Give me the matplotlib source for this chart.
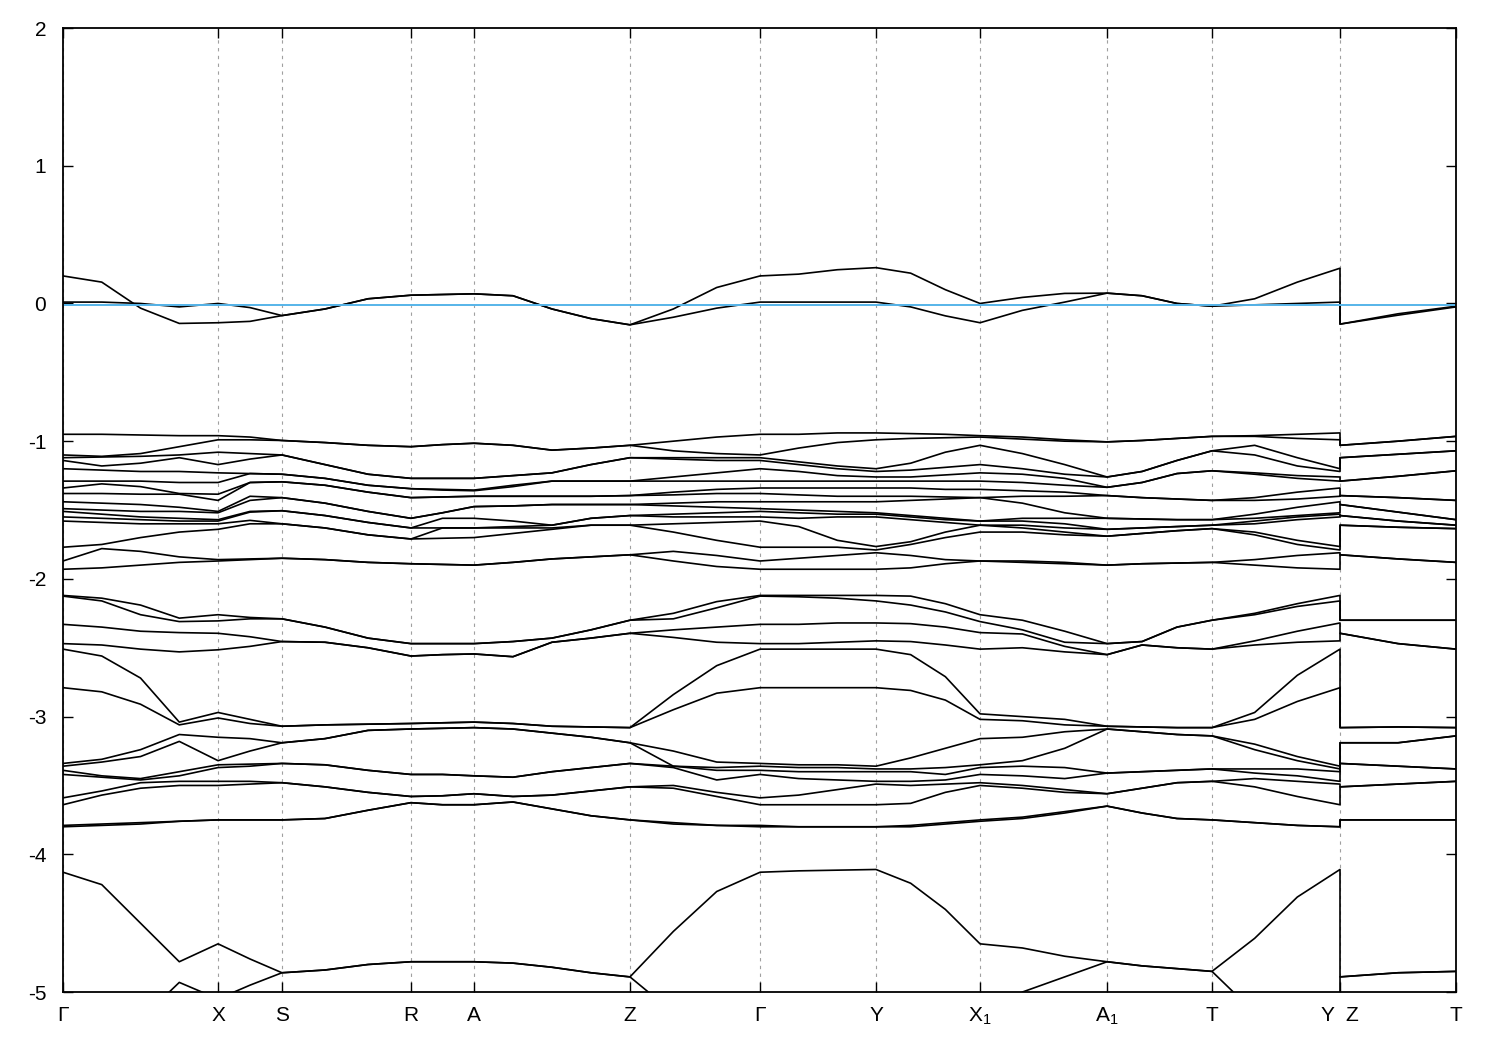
import numpy as np
import matplotlib
matplotlib.use("Agg")
import matplotlib.pyplot as plt

plt.rcParams['font.family'] = ['Liberation Sans', 'DejaVu Sans']
plt.rcParams['mathtext.fontset'] = 'custom'
plt.rcParams['mathtext.rm'] = 'Liberation Sans'
plt.rcParams['mathtext.it'] = 'Liberation Sans'
plt.rcParams['axes.unicode_minus'] = False

# ----- k path -----
kpath_labels = ['Γ', 'X', 'S', 'R', 'A', 'Z', 'Γ', 'Y', 'X$_1$', 'A$_1$', 'T', 'Y  Z', 'T']
kpath_pos = [0.0, 0.1113, 0.1572, 0.2498, 0.2950, 0.4070, 0.5004, 0.5836,
             0.6583, 0.7495, 0.8248, 0.9167, 1.0]
# number of sampled steps per segment (last one is the Z-T branch)
nsub = [4, 2, 3, 2, 4, 3, 3, 3, 3, 3, 3, 2]

fermi_level = -0.01

# ----- bands near the Fermi level (one list per band, 37 k samples) -----
band_a = [0.20, 0.155, -0.034, -0.145, -0.14, -0.13, -0.088, -0.04, 0.034, 0.06,
          0.065, 0.07, 0.056, -0.04, -0.11, -0.155, -0.04, 0.116, 0.20, 0.213,
          0.245, 0.26, 0.22, 0.10, 0.0, 0.044, 0.073, 0.075, 0.056, 0.0,
          -0.02, 0.034, 0.155, 0.256, -0.15, -0.085, -0.025]
band_b = [0.01, 0.01, 0.0, -0.025, 0.0, -0.03, -0.088, -0.04, 0.034, 0.06,
          0.065, 0.07, 0.056, -0.04, -0.11, -0.155, -0.10, -0.034, 0.01, 0.01,
          0.01, 0.01, -0.025, -0.09, -0.14, -0.05, 0.01, 0.075, 0.056, 0.0,
          -0.02, -0.01, 0.0, 0.01, -0.15, -0.075, -0.02]

# ----- bands between -0.9 and -2 eV (one row per k sample) -----
g1_gamma = [-0.95, -1.10, -1.12, -1.14, -1.20, -1.29, -1.34, -1.38, -1.44, -1.49, -1.51, -1.55, -1.58, -1.77, -1.87, -1.93]
g1_z = [-1.03, -1.03, -1.12, -1.12, -1.29, -1.29, -1.395, -1.395, -1.46, -1.46, -1.54, -1.54, -1.61, -1.61, -1.825, -1.825]
g1_y = [-0.94, -0.99, -1.20, -1.22, -1.26, -1.29, -1.34, -1.40, -1.44, -1.52, -1.53, -1.55, -1.765, -1.79, -1.81, -1.93]
g1_t = [-0.965, -0.965, -1.07, -1.07, -1.215, -1.215, -1.43, -1.43, -1.57, -1.57, -1.61, -1.61, -1.635, -1.635, -1.88, -1.88]
g1 = [
    g1_gamma,
    [-0.95, -1.11, -1.115, -1.18, -1.21, -1.29, -1.31, -1.38, -1.45, -1.50, -1.53, -1.56, -1.59, -1.75, -1.78, -1.92],
    [-0.955, -1.09, -1.11, -1.16, -1.22, -1.29, -1.33, -1.385, -1.46, -1.51, -1.55, -1.57, -1.60, -1.70, -1.80, -1.90],
    [-0.96, -1.04, -1.10, -1.12, -1.22, -1.30, -1.38, -1.385, -1.48, -1.51, -1.56, -1.58, -1.60, -1.66, -1.84, -1.88],
    [-0.96, -0.99, -1.08, -1.17, -1.23, -1.30, -1.385, -1.43, -1.51, -1.52, -1.57, -1.58, -1.60, -1.64, -1.86, -1.87],
    [-0.97, -0.99, -1.09, -1.13, -1.235, -1.235, -1.30, -1.30, -1.40, -1.43, -1.51, -1.515, -1.575, -1.60, -1.855, -1.86],
    [-0.995, -0.995, -1.10, -1.10, -1.24, -1.24, -1.295, -1.295, -1.41, -1.41, -1.505, -1.505, -1.60, -1.60, -1.85, -1.85],
    [-1.01, -1.01, -1.17, -1.17, -1.27, -1.27, -1.32, -1.32, -1.45, -1.45, -1.54, -1.54, -1.63, -1.63, -1.86, -1.86],
    [-1.03, -1.03, -1.24, -1.24, -1.32, -1.32, -1.37, -1.37, -1.51, -1.51, -1.59, -1.59, -1.68, -1.68, -1.88, -1.88],
    [-1.04, -1.04, -1.27, -1.27, -1.345, -1.345, -1.41, -1.41, -1.56, -1.56, -1.63, -1.63, -1.71, -1.71, -1.89, -1.89],
    [-1.025, -1.025, -1.27, -1.27, -1.35, -1.355, -1.405, -1.405, -1.52, -1.52, -1.56, -1.63, -1.63, -1.705, -1.895, -1.895],
    [-1.015, -1.015, -1.27, -1.27, -1.355, -1.36, -1.40, -1.40, -1.475, -1.475, -1.56, -1.63, -1.63, -1.70, -1.90, -1.90],
    [-1.03, -1.03, -1.25, -1.25, -1.32, -1.33, -1.40, -1.40, -1.47, -1.47, -1.58, -1.62, -1.63, -1.67, -1.88, -1.88],
    [-1.065, -1.065, -1.23, -1.23, -1.29, -1.29, -1.40, -1.40, -1.46, -1.46, -1.61, -1.61, -1.63, -1.64, -1.855, -1.855],
    [-1.05, -1.05, -1.17, -1.17, -1.29, -1.29, -1.40, -1.40, -1.46, -1.46, -1.56, -1.56, -1.61, -1.61, -1.84, -1.84],
    g1_z,
    [-1.00, -1.07, -1.12, -1.13, -1.26, -1.29, -1.37, -1.39, -1.45, -1.47, -1.53, -1.55, -1.60, -1.66, -1.80, -1.87],
    [-0.97, -1.09, -1.12, -1.14, -1.23, -1.29, -1.35, -1.38, -1.44, -1.48, -1.52, -1.55, -1.59, -1.72, -1.83, -1.91],
    g1_gamma,
    [-0.95, -1.05, -1.15, -1.17, -1.22, -1.29, -1.34, -1.39, -1.44, -1.50, -1.52, -1.56, -1.62, -1.77, -1.85, -1.93],
    [-0.94, -1.01, -1.18, -1.20, -1.25, -1.29, -1.34, -1.40, -1.44, -1.51, -1.53, -1.55, -1.72, -1.77, -1.83, -1.93],
    g1_y,
    [-0.945, -0.98, -1.16, -1.21, -1.26, -1.29, -1.34, -1.40, -1.43, -1.54, -1.55, -1.57, -1.73, -1.75, -1.83, -1.92],
    [-0.95, -0.975, -1.08, -1.19, -1.245, -1.29, -1.35, -1.405, -1.42, -1.56, -1.57, -1.59, -1.66, -1.70, -1.86, -1.89],
    [-0.96, -0.97, -1.03, -1.17, -1.23, -1.29, -1.35, -1.41, -1.41, -1.58, -1.58, -1.61, -1.61, -1.66, -1.87, -1.87],
    [-0.97, -0.985, -1.09, -1.20, -1.24, -1.30, -1.36, -1.40, -1.45, -1.56, -1.58, -1.61, -1.63, -1.66, -1.87, -1.88],
    [-0.99, -1.00, -1.17, -1.24, -1.27, -1.32, -1.37, -1.40, -1.52, -1.56, -1.60, -1.63, -1.66, -1.68, -1.88, -1.89],
    [-1.005, -1.005, -1.26, -1.26, -1.335, -1.335, -1.395, -1.395, -1.56, -1.56, -1.64, -1.64, -1.69, -1.69, -1.90, -1.90],
    [-0.995, -0.995, -1.22, -1.22, -1.30, -1.30, -1.41, -1.41, -1.565, -1.565, -1.63, -1.63, -1.67, -1.67, -1.89, -1.89],
    [-0.98, -0.98, -1.14, -1.14, -1.235, -1.235, -1.42, -1.42, -1.57, -1.57, -1.62, -1.62, -1.65, -1.65, -1.885, -1.885],
    g1_t,
    [-0.96, -0.965, -1.03, -1.10, -1.23, -1.24, -1.41, -1.43, -1.53, -1.56, -1.58, -1.60, -1.66, -1.68, -1.86, -1.90],
    [-0.95, -0.98, -1.12, -1.18, -1.25, -1.27, -1.37, -1.42, -1.48, -1.54, -1.55, -1.57, -1.72, -1.75, -1.83, -1.92],
    g1_y,
    g1_z,
    [-1.00, -1.00, -1.095, -1.095, -1.255, -1.255, -1.41, -1.41, -1.515, -1.515, -1.58, -1.58, -1.625, -1.625, -1.855, -1.855],
    g1_t,
]

# ----- bands between -2.1 and -2.6 eV -----
g2 = [
    [-2.12, -2.125, -2.33, -2.47],
    [-2.14, -2.16, -2.35, -2.48],
    [-2.19, -2.26, -2.38, -2.51],
    [-2.285, -2.31, -2.39, -2.53],
    [-2.26, -2.305, -2.395, -2.515],
    [-2.28, -2.29, -2.42, -2.49],
    [-2.29, -2.29, -2.455, -2.455],
    [-2.35, -2.35, -2.46, -2.46],
    [-2.43, -2.43, -2.50, -2.50],
    [-2.47, -2.47, -2.56, -2.56],
    [-2.47, -2.47, -2.55, -2.55],
    [-2.47, -2.47, -2.545, -2.545],
    [-2.455, -2.455, -2.565, -2.565],
    [-2.43, -2.43, -2.46, -2.46],
    [-2.37, -2.37, -2.43, -2.43],
    [-2.30, -2.30, -2.395, -2.395],
    [-2.25, -2.29, -2.37, -2.425],
    [-2.165, -2.21, -2.35, -2.46],
    [-2.12, -2.125, -2.33, -2.47],
    [-2.12, -2.13, -2.33, -2.47],
    [-2.12, -2.14, -2.32, -2.46],
    [-2.12, -2.16, -2.32, -2.45],
    [-2.125, -2.19, -2.325, -2.455],
    [-2.18, -2.24, -2.35, -2.48],
    [-2.26, -2.31, -2.39, -2.51],
    [-2.30, -2.37, -2.40, -2.50],
    [-2.38, -2.46, -2.49, -2.53],
    [-2.47, -2.47, -2.55, -2.55],
    [-2.455, -2.455, -2.48, -2.48],
    [-2.35, -2.35, -2.50, -2.50],
    [-2.30, -2.30, -2.51, -2.51],
    [-2.25, -2.26, -2.45, -2.48],
    [-2.18, -2.20, -2.38, -2.46],
    [-2.12, -2.16, -2.32, -2.45],
    [-2.30, -2.30, -2.395, -2.395],
    [-2.30, -2.30, -2.47, -2.47],
    [-2.30, -2.30, -2.51, -2.51],
]

# ----- bands between -2.5 and -3.8 eV -----
g3_gamma = [-2.51, -2.79, -3.34, -3.36, -3.39, -3.42, -3.59, -3.64, -3.79, -3.80]
g3_z = [-3.08, -3.08, -3.19, -3.19, -3.34, -3.34, -3.51, -3.51, -3.75, -3.75]
g3_y = [-2.51, -2.79, -3.36, -3.38, -3.40, -3.47, -3.49, -3.64, -3.80, -3.80]
g3_t = [-3.08, -3.08, -3.14, -3.14, -3.38, -3.38, -3.47, -3.47, -3.75, -3.75]
g3 = [
    g3_gamma,
    [-2.56, -2.82, -3.31, -3.33, -3.43, -3.44, -3.54, -3.57, -3.78, -3.79],
    [-2.72, -2.91, -3.24, -3.29, -3.45, -3.46, -3.48, -3.52, -3.77, -3.78],
    [-3.04, -3.06, -3.13, -3.18, -3.40, -3.43, -3.47, -3.50, -3.76, -3.76],
    [-2.97, -3.01, -3.15, -3.32, -3.35, -3.37, -3.47, -3.50, -3.75, -3.75],
    [-3.02, -3.05, -3.16, -3.25, -3.345, -3.36, -3.47, -3.49, -3.75, -3.75],
    [-3.07, -3.07, -3.19, -3.19, -3.34, -3.34, -3.48, -3.48, -3.75, -3.75],
    [-3.06, -3.06, -3.16, -3.16, -3.35, -3.35, -3.51, -3.51, -3.74, -3.74],
    [-3.055, -3.055, -3.10, -3.10, -3.39, -3.39, -3.55, -3.55, -3.68, -3.68],
    [-3.05, -3.05, -3.09, -3.09, -3.42, -3.42, -3.58, -3.58, -3.625, -3.625],
    [-3.045, -3.045, -3.085, -3.085, -3.42, -3.42, -3.575, -3.575, -3.64, -3.64],
    [-3.04, -3.04, -3.08, -3.08, -3.43, -3.43, -3.56, -3.56, -3.64, -3.64],
    [-3.05, -3.05, -3.09, -3.09, -3.44, -3.44, -3.58, -3.58, -3.62, -3.62],
    [-3.07, -3.07, -3.12, -3.12, -3.40, -3.40, -3.57, -3.57, -3.67, -3.67],
    [-3.075, -3.075, -3.15, -3.15, -3.37, -3.37, -3.54, -3.54, -3.72, -3.72],
    g3_z,
    [-2.84, -2.95, -3.25, -3.36, -3.36, -3.37, -3.50, -3.52, -3.77, -3.78],
    [-2.63, -2.83, -3.33, -3.37, -3.39, -3.46, -3.55, -3.58, -3.79, -3.79],
    g3_gamma,
    [-2.51, -2.79, -3.35, -3.37, -3.40, -3.45, -3.57, -3.64, -3.80, -3.80],
    [-2.51, -2.79, -3.35, -3.37, -3.40, -3.46, -3.53, -3.64, -3.80, -3.80],
    g3_y,
    [-2.55, -2.81, -3.30, -3.38, -3.40, -3.47, -3.50, -3.63, -3.79, -3.80],
    [-2.71, -2.88, -3.23, -3.37, -3.42, -3.46, -3.49, -3.55, -3.77, -3.78],
    [-2.98, -3.02, -3.16, -3.35, -3.37, -3.42, -3.48, -3.50, -3.75, -3.76],
    [-3.00, -3.03, -3.15, -3.32, -3.36, -3.43, -3.50, -3.52, -3.73, -3.74],
    [-3.02, -3.06, -3.11, -3.23, -3.37, -3.45, -3.53, -3.55, -3.69, -3.70],
    [-3.07, -3.07, -3.09, -3.09, -3.41, -3.41, -3.56, -3.56, -3.65, -3.65],
    [-3.075, -3.075, -3.11, -3.11, -3.40, -3.40, -3.52, -3.52, -3.70, -3.70],
    [-3.08, -3.08, -3.13, -3.13, -3.39, -3.39, -3.48, -3.48, -3.74, -3.74],
    g3_t,
    [-2.97, -3.02, -3.20, -3.24, -3.38, -3.41, -3.45, -3.51, -3.77, -3.77],
    [-2.70, -2.89, -3.29, -3.32, -3.38, -3.43, -3.47, -3.58, -3.79, -3.79],
    g3_y,
    g3_z,
    [-3.075, -3.075, -3.19, -3.19, -3.36, -3.36, -3.49, -3.49, -3.75, -3.75],
    g3_t,
]

# ----- lowest bands (partly below -5 eV) -----
band_4a = [-4.13, -4.22, -4.50, -4.78, -4.65, -4.76, -4.86, -4.84, -4.80, -4.78,
           -4.78, -4.78, -4.79, -4.82, -4.86, -4.89, -4.56, -4.27, -4.13, -4.12,
           -4.115, -4.11, -4.21, -4.40, -4.65, -4.68, -4.74, -4.78, -4.81, -4.83,
           -4.85, -4.61, -4.31, -4.11, -4.89, -4.86, -4.85]
band_4b = [-5.6, -5.45, -5.2, -4.93, -5.05, -4.95, -4.86, -4.84, -4.80, -4.78,
           -4.78, -4.78, -4.79, -4.82, -4.86, -4.89, -5.15, -5.5, -5.6, -5.6,
           -5.6, -5.6, -5.6, -5.5, -5.3, -5.0, -4.89, -4.78, -4.81, -4.83,
           -4.85, -5.15, -5.4, -5.6, -4.89, -4.86, -4.85]

# ----- build k samples -----
k = [kpath_pos[0]]
for i in range(11):
    k.extend(np.linspace(kpath_pos[i], kpath_pos[i + 1], nsub[i] + 1)[1:])
k.extend(np.linspace(kpath_pos[11], kpath_pos[12], nsub[11] + 1))
k = np.array(k)

bands = [band_a, band_b, band_4a, band_4b]
for grp in (g1, g2, g3):
    bands.extend(np.array(grp).T)

# ----- plot -----
fig = plt.figure(figsize=(15, 10.5), dpi=100)
ax = fig.add_axes([0.042, 0.0552, 0.9287, 0.9181])

for e in bands:
    ax.plot(k, e, color='black', lw=1.2, solid_joinstyle='round')

ax.axhline(fermi_level, color='#56b4e9', lw=1.4)

ax.set_xlim(kpath_pos[0], kpath_pos[-1])
ax.set_ylim(-5, 2)
ax.set_xticks(kpath_pos)
ax.set_xticklabels(kpath_labels)
ax.set_yticks(range(-5, 3))
ax.tick_params(direction='in', length=7, width=1, labelsize=15,
               top=True, right=True)
ax.tick_params(axis='x', pad=10)
ax.tick_params(axis='y', pad=12)
ax.xaxis.grid(True, linestyle=(0, (3, 4)), color='#a0a0a0', lw=0.8)

for s in ax.spines.values():
    s.set_linewidth(1.3)

fig.savefig("out.png", dpi=100)
